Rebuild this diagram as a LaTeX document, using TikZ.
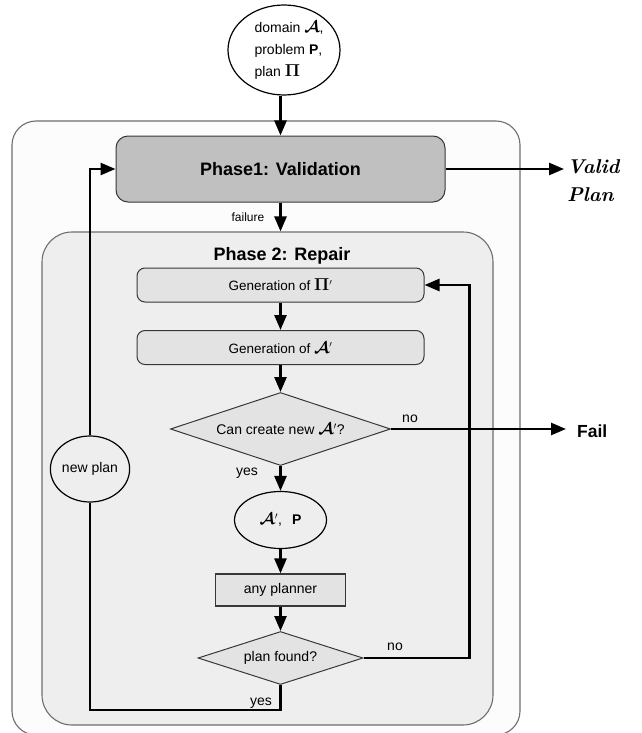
\documentclass[tikz,border=0pt]{standalone}
\usepackage{amsmath,bm}
\usepackage{fontspec}
\setsansfont{Liberation Sans}
\usetikzlibrary{arrows.meta,shapes.geometric}
\newcommand{\calA}{\scalebox{1.15}{$\boldsymbol{\mathcal{A}}$}}
\newcommand{\bigPi}{\scalebox{1.2}{$\boldsymbol{\Pi}$}}
\definecolor{outerfill}{HTML}{FCFCFC}
\definecolor{innerfill}{HTML}{EEEEEE}
\definecolor{boxfill}{HTML}{E3E3E3}
\definecolor{phasefill}{HTML}{C0C0C0}
\definecolor{frame}{HTML}{6E6E6E}
\definecolor{edge}{HTML}{383838}
\begin{document}
\begin{tikzpicture}[x=1pt,y=-1pt,
  conn/.style={line width=2.6pt,-{Triangle[length=15pt,width=12pt]}},
  plain/.style={line width=2.6pt},
  txt/.style={font=\sffamily\fontsize{14}{17}\selectfont},
  lab/.style={font=\sffamily\fontsize{14}{17}\selectfont,inner sep=0pt},
  bigbold/.style={font=\sffamily\bfseries\fontsize{18}{21}\selectfont},
  genbox/.style={draw=edge,line width=1pt,fill=boxfill,rounded corners=8pt,minimum width=287pt,minimum height=34pt,inner sep=0pt,font=\sffamily\fontsize{13.5}{16}\selectfont},
  decision/.style={diamond,shape aspect=3,draw=edge,line width=1pt,fill=boxfill,inner sep=0pt,txt},
  oval/.style={ellipse,draw=black,line width=1.2pt,inner sep=0pt},
  container/.style={draw=frame,line width=1.1pt,inner sep=0pt}
]
\useasboundingbox[fill=white] (0,0) rectangle (641,733);

% containers
\node[container,fill=outerfill,rounded corners=24pt,minimum width=508pt,minimum height=614pt] (outer) at (266,428) {};
\node[container,fill=innerfill,rounded corners=30pt,minimum width=451pt,minimum height=493pt] (inner) at (267.5,478.5) {};

% input ellipse
\node[oval,fill=white,minimum width=112pt,minimum height=90pt] (inp) at (284,50) {};
\node[txt,align=left,inner sep=0pt,font=\sffamily\fontsize{14}{22}\selectfont] (inptxt) at (289,50) {domain \calA,\\ problem \textbf{P},\\ plan \bigPi};

% phase 1
\node[draw=edge,line width=1pt,fill=phasefill,rounded corners=12pt,minimum width=329pt,minimum height=66pt,bigbold] (p1) at (280.5,169) {Phase1: Validation};
\node[font=\rmfamily\bfseries\itshape\fontsize{20}{28}\selectfont,align=left,anchor=west,inner sep=0pt] (vp) at (567,181) {Valid\\Plan};
\coordinate (vptip) at (564,169);

\node[lab,font=\sffamily\fontsize{12}{14}\selectfont] (flab) at (248,217) {failure};

% phase 2
\node[bigbold,inner sep=0pt] (p2) at (282,256) {Phase 2: Repair};
\node[genbox] (g1) at (280.5,285) {Generation of \bigPi$'$};
\node[genbox] (g2) at (280.5,347.5) {Generation of \calA$'$};
\node[decision,minimum width=220pt,minimum height=73pt] (d1) at (280.5,429) {Can create new \calA$'$?};
\node[oval,minimum width=92pt,minimum height=57pt,txt] (e2) at (280.5,520) {\calA$'$,\hspace{10pt}\textbf{P}};
\node[draw=edge,line width=1.2pt,fill=boxfill,minimum width=130pt,minimum height=32pt,inner sep=0pt,txt] (ap) at (280.5,590) {any planner};
\node[decision,minimum width=165pt,minimum height=53pt] (d2) at (280.5,658) {plan found?};
\node[oval,minimum width=78pt,minimum height=66pt,txt] (np) at (90,469) {new plan};

\node[font=\sffamily\bfseries\fontsize{17.5}{20}\selectfont,anchor=west,inner sep=0pt] (fail) at (577,431) {Fail};
\coordinate (failtip) at (566,429);

% labels
\node[lab] (no1) at (410,419) {no};
\node[lab] (yes1) at (247,473) {yes};
\node[lab] (no2) at (395,647) {no};
\node[lab] (yes2) at (261,703) {yes};

% connectors
\draw[conn] (inp.south -| p1.north) -- (p1.north);
\draw[conn] (p1.east) -- (vptip);
\draw[conn] (p1.south) -- (p1.south |- inner.north);
\draw[conn] (g1.south) -- (g2.north);
\draw[conn] (g2.south) -- (d1.north);
\draw[conn] (d1.east) -- (failtip);
\draw[conn] (d1.south) -- (e2.north);
\draw[conn] (e2.south) -- (ap.north);
\draw[conn] (ap.south) -- (d2.north);
\draw[conn] (d2.east) -- ++(106,0) |- (g1.east);
\draw[plain] (d2.south) -- ++(0,25) -| (np.south);
\draw[conn] (np.north) |- (p1.west);
\end{tikzpicture}
\end{document}
